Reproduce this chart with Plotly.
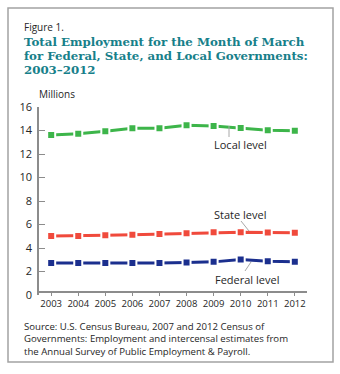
import plotly.graph_objects as go

# Employment for the month of March, in millions
years = [2003, 2004, 2005, 2006, 2007, 2008, 2009, 2010, 2011, 2012]
local_level = [13.62, 13.72, 13.93, 14.20, 14.20, 14.45, 14.38, 14.22, 14.02, 13.98]
state_level = [5.02, 5.03, 5.08, 5.13, 5.20, 5.26, 5.33, 5.35, 5.32, 5.30]
federal_level = [2.73, 2.72, 2.72, 2.72, 2.72, 2.76, 2.82, 3.02, 2.88, 2.82]
y_ticks = [0, 2, 4, 6, 8, 10, 12, 14, 16]

GREEN = "#3db54a"
RED = "#f04a3c"
BLUE = "#1b2f8e"
TEAL = "#17808a"
GRID = "#8c8c8c"
TEXT = "#262626"
SANS = "Open Sans, sans-serif"
SERIF = "DejaVu Serif, serif"

FIG_W, FIG_H = 340, 374
M_L, M_R, M_T, M_B = 39, 33, 107, 79
PW = FIG_W - M_L - M_R
PH = FIG_H - M_T - M_B


def px_x(x):
    """Pixel column -> paper fraction."""
    return (x - M_L) / PW


def px_y(y):
    """Pixel row -> paper fraction."""
    return (FIG_H - M_B - y) / PH


fig = go.Figure()

for name, vals, col in [("Local level", local_level, GREEN),
                        ("State level", state_level, RED),
                        ("Federal level", federal_level, BLUE)]:
    fig.add_trace(go.Scatter(
        x=years, y=vals, name=name, mode="lines+markers",
        line=dict(color=col, width=3),
        marker=dict(symbol="square", size=8, color=col,
                    line=dict(color="white", width=2)),
        hoverinfo="x+y+name",
    ))

annotations = []


def text(x, y, s, size, color=TEXT, family=SANS, yanchor="middle"):
    annotations.append(dict(
        x=px_x(x), y=px_y(y), xref="paper", yref="paper",
        xanchor="left", yanchor=yanchor, align="left", text=s, showarrow=False,
        font=dict(family=family, size=size, color=color),
    ))


text(22, 26.7, "Figure 1.", 10)
text(22, 42.2, "<b>Total Employment for the Month of March</b>", 11.8, TEAL, SERIF)
text(22, 55.8, "<b>for Federal, State, and Local Governments:</b>", 11.8, TEAL, SERIF)
text(22, 69.5, "<b>2003–2012</b>", 11.8, TEAL, SERIF)
text(37, 93.8, "Millions", 10)

text(212, 144, "Local level", 11)
text(212, 214, "State level", 11)
text(213, 279, "Federal level", 11)

text(22, 339, "Source: U.S. Census Bureau, 2007 and 2012 Census of<br>"
             "Governments: Employment and intercensal estimates from<br>"
             "the Annual Survey of Public Employment &amp; Payroll.", 9.6)

shapes = [
    # frame around the figure
    dict(type="rect", xref="paper", yref="paper",
         x0=px_x(8), x1=px_x(333), y0=px_y(8), y1=px_y(362),
         line=dict(color="#a3a3a3", width=1.5), layer="below"),
]
# leader lines from labels to their series
for (x0, y0, x1, y1) in [(229, 126, 229, 137),
                         (241, 221, 249, 231),
                         (251, 262, 245, 271)]:
    shapes.append(dict(type="line", xref="paper", yref="paper",
                       x0=px_x(x0), y0=px_y(y0), x1=px_x(x1), y1=px_y(y1),
                       line=dict(color="#a8a8a8", width=1)))

fig.update_layout(
    width=FIG_W, height=FIG_H,
    margin=dict(l=M_L, r=M_R, t=M_T, b=M_B, pad=0),
    paper_bgcolor="white", plot_bgcolor="white",
    showlegend=False,
    annotations=annotations,
    shapes=shapes,
    xaxis=dict(
        range=[2002.55, 2012.45], tickvals=years, ticktext=[str(y) for y in years],
        showgrid=False, zeroline=False, showline=True, linecolor=GRID, linewidth=1.5,
        ticks="outside", ticklen=3, tickcolor=GRID, tickwidth=1,
        tickfont=dict(family=SANS, size=9.5, color=TEXT),
        anchor="free", position=(FIG_H - M_B - 292.3) / PH,
    ),
    yaxis=dict(
        range=[0, 16], tickvals=y_ticks,
        showgrid=False, zeroline=False, showline=True, linecolor=GRID, linewidth=1.5,
        ticks="inside", ticklen=6, tickcolor=GRID, tickwidth=1,
        tickfont=dict(family=SANS, size=11, color=TEXT),
        ticklabelstandoff=3,
    ),
)

fig.write_html("out.html")
